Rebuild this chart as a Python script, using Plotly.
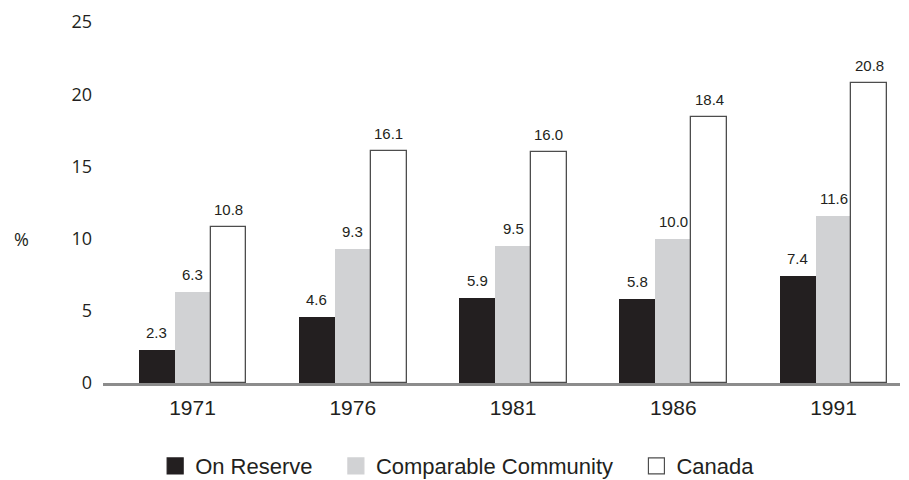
import plotly.graph_objects as go

years = ["1971", "1976", "1981", "1986", "1991"]
on_reserve = [2.3, 4.6, 5.9, 5.8, 7.4]
comparable = [6.3, 9.3, 9.5, 10.0, 11.6]
canada = [10.8, 16.1, 16.0, 18.4, 20.8]
y_ticks = [0, 5, 10, 15, 20, 25]

NBSP = "\u00a0"
series = [
    ("On Reserve", on_reserve, "#231f20", "#231f20", 0, 3),
    ("Comparable Community", comparable, "#d1d2d4", "#d1d2d4", 0, 3),
    ("Canada", canada, "#ffffff", "#4d4d4d", 1.3, 0),
]

BAR_W = 0.2246  # width of a single bar in category units
fig = go.Figure()
idx = list(range(len(years)))
for k, (name, vals, fill, edge, lw, pad) in enumerate(series):
    off = (k - 1) * BAR_W
    fig.add_trace(go.Bar(
        x=[i + off for i in idx], y=vals, width=BAR_W, name=name,
        marker=dict(color=fill, line=dict(color=edge, width=lw)),
        showlegend=False,
    ))
    # legend entry with a larger square swatch
    fig.add_trace(go.Scatter(
        x=[None], y=[None], mode="markers", name=name + NBSP * pad,
        marker=dict(symbol="square", size=16, color=fill,
                    line=dict(color=edge if lw else fill, width=1.2)),
    ))
    for i, v in zip(idx, vals):
        fig.add_annotation(
            x=i + off, y=v, text=f"{v:.1f}", showarrow=False,
            xref="x", yref="y", yanchor="bottom", yshift=7,
            font=dict(family="Liberation Sans, Arial", size=15, color="#231f20"),
        )

fig.add_annotation(
    x=-0.102, xref="paper", y=10, yref="y", text="%", showarrow=False,
    xanchor="center", yanchor="middle",
    font=dict(family="Open Sans", size=18, color="#231f20"),
)

fig.update_layout(
    width=909, height=480,
    margin=dict(l=103, r=9, t=17, b=97),
    paper_bgcolor="white", plot_bgcolor="white",
    bargap=0, barmode="overlay",
    xaxis=dict(
        range=[-0.5585, 4.415], tickmode="array", tickvals=idx, ticktext=years,
        showline=True, linecolor="#8c8c8c", linewidth=3, showgrid=False,
        zeroline=False, ticks="", ticklabelstandoff=4,
        tickfont=dict(family="Liberation Sans, Arial", size=21, color="#231f20"),
    ),
    yaxis=dict(
        range=[0, 25], tickvals=y_ticks, showgrid=False, zeroline=False,
        showline=False, ticks="", ticklabelstandoff=10,
        tickfont=dict(family="Open Sans", size=18, color="#231f20"),
    ),
    legend=dict(
        orientation="h", x=0.445, xanchor="center",
        yref="container", y=0.029, yanchor="middle",
        font=dict(family="Liberation Sans, Arial", size=22, color="#231f20"),
        itemwidth=30, bgcolor="rgba(0,0,0,0)",
    ),
)

fig.write_html("out.html")
